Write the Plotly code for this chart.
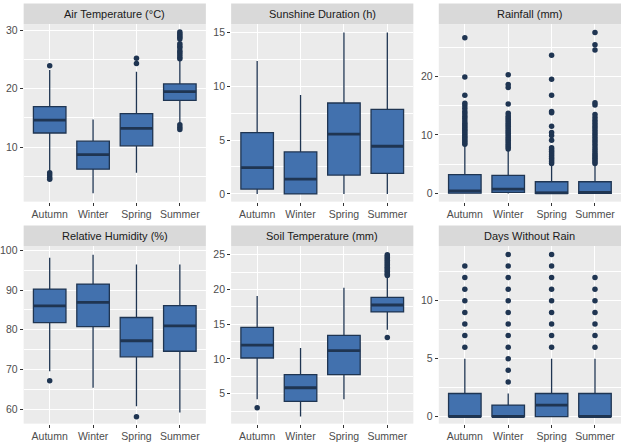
import plotly.graph_objects as go

W, H = 626, 442
seasons = ["Autumn", "Winter", "Spring", "Summer"]

titles = ["Air Temperature (°C)", "Sunshine Duration (h)", "Rainfall (mm)",
          "Relative Humidity (%)", "Soil Temperature (mm)", "Days Without Rain"]

# box statistics per season: q1, median, q3, lower whisker, upper whisker
air_q1 = [12.4, 6.2, 10.2, 18.0]
air_med = [14.6, 8.7, 13.2, 19.5]
air_q3 = [16.9, 11.0, 15.7, 20.8]
air_lo = [5.8, 2.1, 5.6, 14.1]
air_hi = [23.2, 14.7, 22.9, 24.9]
air_out = [[23.9, 5.6, 5.2, 4.8, 4.5], [], [24.3, 25.2],
           [25.1, 25.4, 25.8, 26.2, 26.5, 27.0, 27.3, 27.7, 28.5, 28.8, 29.1, 29.4, 29.7,
            13.0, 13.4, 13.8]]

sun_q1 = [0.45, 0.0, 1.75, 1.9]
sun_med = [2.45, 1.38, 5.55, 4.43]
sun_q3 = [5.7, 3.9, 8.45, 7.85]
sun_lo = [0.0, 0.0, 0.0, 0.0]
sun_hi = [12.36, 9.2, 15.0, 15.0]
sun_out = [[], [], [], []]

rain_q1 = [0.05, 0.17, 0.0, 0.0]
rain_med = [0.45, 0.74, 0.1, 0.2]
rain_q3 = [3.2, 3.1, 2.0, 2.0]
rain_lo = [0.0, 0.0, 0.0, 0.0]
rain_hi = [8.1, 7.4, 5.0, 4.9]
rain_out = [[8.4, 8.7, 9.0, 9.3, 9.6, 9.9, 10.2, 10.5, 10.8, 11.1, 11.4, 11.7, 12.0, 12.4,
             12.8, 13.2, 13.6, 14.0, 14.5, 15.0, 15.4, 16.8, 19.9, 26.6],
            [7.6, 7.9, 8.2, 8.5, 8.8, 9.1, 9.4, 9.7, 10.0, 10.3, 10.6, 10.9, 11.2, 11.5,
             11.8, 12.1, 12.4, 12.7, 13.0, 13.3, 13.7, 15.3, 18.1, 18.6, 20.3],
            [5.1, 5.4, 5.7, 6.0, 6.3, 6.6, 6.9, 7.2, 7.5, 7.8, 9.1, 9.9, 10.4, 11.5, 13.8,
             14.0, 16.8, 19.5, 23.6],
            [5.1, 5.4, 5.7, 6.0, 6.3, 6.6, 6.9, 7.3, 7.7, 8.1, 8.5, 8.9, 9.3, 9.7, 10.1,
             10.5, 10.9, 11.3, 11.7, 12.1, 12.5, 13.0, 13.5, 15.1, 15.5, 24.5, 25.4, 27.5]]

hum_q1 = [81.8, 80.8, 73.2, 74.6]
hum_med = [86.0, 86.9, 77.25, 81.0]
hum_q3 = [90.25, 91.5, 83.1, 86.1]
hum_lo = [69.6, 65.4, 60.8, 59.2]
hum_hi = [98.1, 98.9, 96.4, 96.4]
hum_out = [[67.2], [], [58.1], []]

soil_q1 = [10.14, 3.9, 7.76, 16.76]
soil_med = [12.0, 5.86, 11.19, 17.76]
soil_q3 = [14.53, 7.76, 13.4, 18.86]
soil_lo = [4.2, 1.72, 4.19, 14.19]
soil_hi = [19.04, 11.57, 20.23, 21.8]
soil_out = [[3.0], [], [],
            [22.0, 22.2, 22.4, 22.6, 22.8, 23.0, 23.2, 23.4, 23.6, 23.8, 24.0, 24.2,
             24.4, 24.6, 24.8, 25.0, 13.1]]

days_q1 = [0, 0, 0, 0]
days_med = [0, 0, 1, 0]
days_q3 = [2, 1, 2, 2]
days_lo = [0, 0, 0, 0]
days_hi = [5, 2, 5, 5]
days_out = [[6, 7, 8, 9, 10, 11, 12, 13],
            [3, 4, 5, 6, 7, 8, 9, 10, 11, 12, 13, 14],
            [6, 7, 8, 9, 10, 11, 12, 13, 14],
            [6, 7, 8, 9, 10, 11, 12]]

y_ranges = [[0.65, 31.0], [-0.72, 15.76], [-1.4, 28.9],
            [56.4, 101.0], [0.7, 26.2], [-0.6, 14.7]]
y_dticks = [10, 5, 10, 10, 5, 5]

panels = [
    (air_q1, air_med, air_q3, air_lo, air_hi, air_out),
    (sun_q1, sun_med, sun_q3, sun_lo, sun_hi, sun_out),
    (rain_q1, rain_med, rain_q3, rain_lo, rain_hi, rain_out),
    (hum_q1, hum_med, hum_q3, hum_lo, hum_hi, hum_out),
    (soil_q1, soil_med, soil_q3, soil_lo, soil_hi, soil_out),
    (days_q1, days_med, days_q3, days_lo, days_hi, days_out),
]

FILL = "#4271AE"
EDGE = "#1F3552"
BOXW = 0.75

col_px = [(22.7, 205.2), (230.5, 413.0), (438.5, 621.0)]
row_px = [(22.5, 201.0), (246.0, 424.5)]
strip_px = [(1.5, 22.5), (225.0, 246.0)]

fig = go.Figure()
xs = list(range(len(seasons)))
layout = dict(
    width=W, height=H, margin=dict(l=0, r=0, t=0, b=0),
    paper_bgcolor="white", plot_bgcolor="#EBEBEB", showlegend=False,
    font=dict(family="Liberation Sans, Arial, sans-serif", color="#4D4D4D", size=10.5),
)
shapes, annotations = [], []

for i, (q1, med, q3, lo, hi, outs) in enumerate(panels):
    r, c = divmod(i, 3)
    n = "" if i == 0 else str(i + 1)
    xa, ya = "x" + n, "y" + n
    fig.add_trace(go.Box(
        x=xs, q1=q1, median=med, q3=q3, lowerfence=lo, upperfence=hi,
        width=BOXW, whiskerwidth=0, fillcolor=FILL,
        line=dict(color=EDGE, width=1.3), boxpoints=False,
        xaxis=xa, yaxis=ya, hoverinfo="skip"))
    mx, my = [], []
    for k, m in enumerate(med):
        mx += [k - BOXW / 2, k + BOXW / 2, None]
        my += [m, m, None]
    fig.add_trace(go.Scatter(x=mx, y=my, mode="lines",
                             line=dict(color=EDGE, width=2.8),
                             xaxis=xa, yaxis=ya, hoverinfo="skip"))
    ox, oy = [], []
    for k, vals in enumerate(outs):
        ox += [k] * len(vals)
        oy += vals
    if ox:
        fig.add_trace(go.Scatter(x=ox, y=oy, mode="markers",
                                 marker=dict(color=EDGE, size=5.5),
                                 xaxis=xa, yaxis=ya, hoverinfo="skip"))
    x0, x1 = col_px[c]
    y0, y1 = row_px[r]
    xdom = [x0 / W, x1 / W]
    ydom = [(H - y1) / H, (H - y0) / H]
    layout["xaxis" + n] = dict(
        domain=xdom, anchor=ya, range=[-0.6, 3.6],
        tickmode="array", tickvals=xs, ticktext=seasons,
        showgrid=True, gridcolor="white", gridwidth=1.2, zeroline=False,
        ticks="outside", ticklen=3, tickwidth=1, tickcolor="#333333",
        tickfont=dict(size=10.5, color="#4D4D4D"), fixedrange=True)
    dt = y_dticks[i]
    layout["yaxis" + n] = dict(
        domain=ydom, anchor=xa, range=y_ranges[i],
        tickmode="linear", tick0=0, dtick=dt,
        showgrid=True, gridcolor="white", gridwidth=1.2, zeroline=False,
        ticks="outside", ticklen=3, tickwidth=1, tickcolor="#333333",
        tickfont=dict(size=10.5, color="#4D4D4D"),
        minor=dict(tick0=0, dtick=dt / 2, showgrid=True, gridcolor="white",
                   gridwidth=0.6, ticks=""),
        fixedrange=True)
    s0, s1 = strip_px[r]
    shapes.append(dict(type="rect", xref="paper", yref="paper",
                       x0=xdom[0], x1=xdom[1], y0=(H - s1) / H, y1=(H - s0) / H,
                       fillcolor="#D9D9D9", line=dict(width=0), layer="below"))
    annotations.append(dict(text=titles[i], xref="paper", yref="paper",
                            x=(xdom[0] + xdom[1]) / 2, y=(H - (s0 + s1) / 2) / H,
                            xanchor="center", yanchor="middle", showarrow=False,
                            font=dict(size=11, color="#1A1A1A")))

layout["shapes"] = shapes
layout["annotations"] = annotations
fig.update_layout(**layout)
fig.write_html("out.html")
